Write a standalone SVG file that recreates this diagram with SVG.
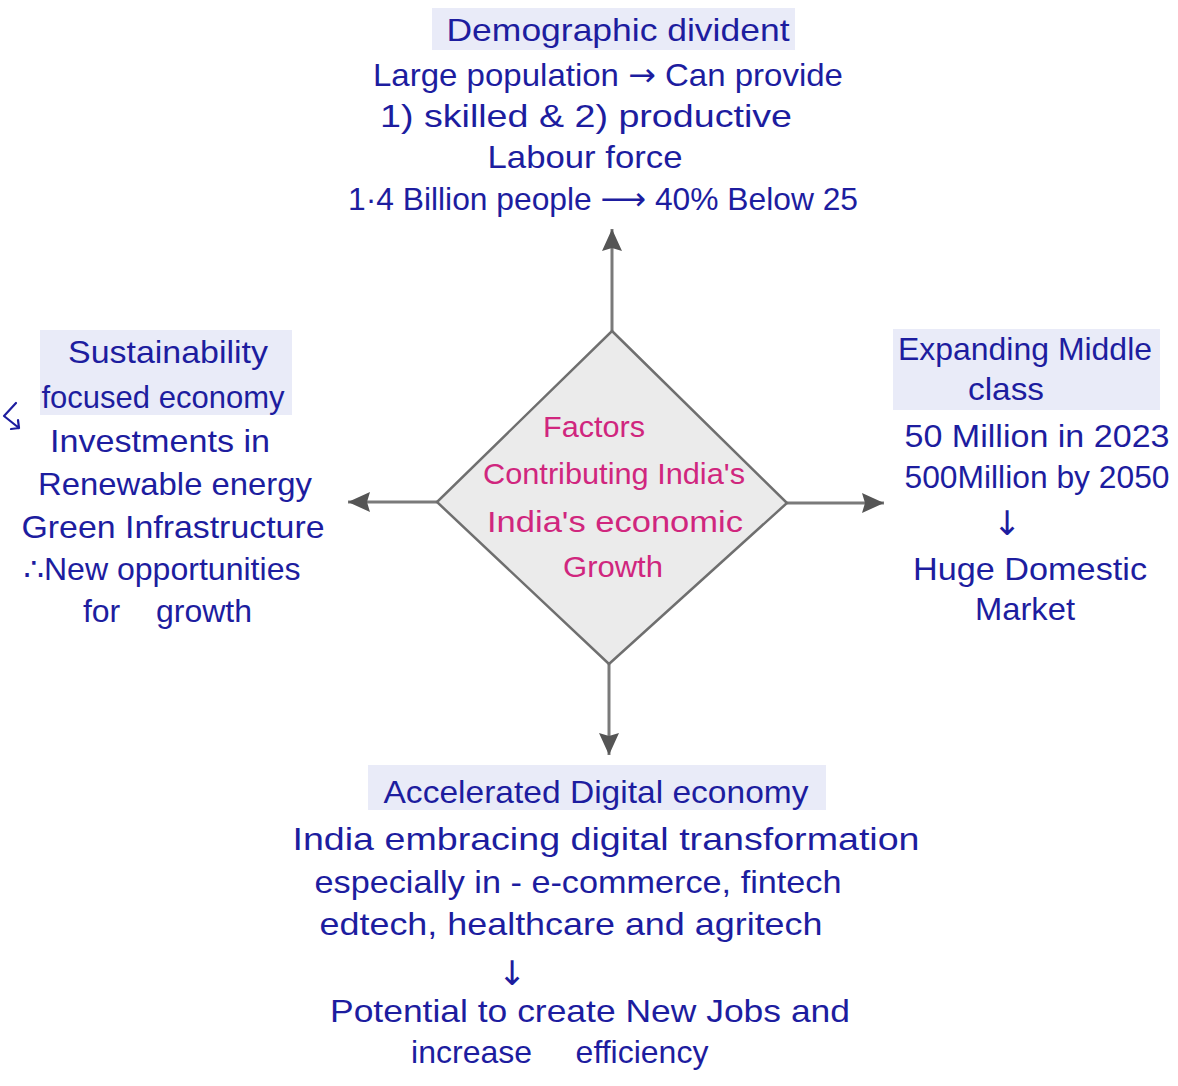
<svg xmlns="http://www.w3.org/2000/svg" width="1178" height="1086" viewBox="0 0 1178 1086">
  <style>
    .ink { font-family: "Liberation Sans", "DejaVu Sans", sans-serif; font-size: 32px; fill: #1d1d9f; text-anchor: middle; }
    .core { font-family: "Liberation Sans", "DejaVu Sans", sans-serif; font-size: 30px; fill: #d0267e; text-anchor: middle; }
    .arw { font-family: "DejaVu Sans", sans-serif; }
    .down { font-family: "DejaVu Sans", sans-serif; font-size: 34px; fill: #1d1d9f; text-anchor: middle; }
    .band { fill: #e9ebf8; }
    .link { stroke: #7a7a7a; stroke-width: 3; fill: none; }
    .pen { stroke: #1d1d9f; stroke-width: 2.2; fill: none; stroke-linecap: round; stroke-linejoin: round; }
  </style>
  <defs>
    <marker id="head" markerUnits="userSpaceOnUse" markerWidth="26" markerHeight="22" refX="22" refY="10" orient="auto">
      <path d="M0,0 L22,10 L0,20 L3,10 Z" fill="#555555"/>
    </marker>
  </defs>

  <rect width="1178" height="1086" fill="#ffffff"/>

  <!-- connectors from the central diamond -->
  <g id="connectors">
    <line class="link" x1="612" y1="331" x2="612" y2="229" marker-end="url(#head)"/>
    <line class="link" x1="437" y1="502" x2="348" y2="502" marker-end="url(#head)"/>
    <line class="link" x1="787" y1="503" x2="884" y2="503" marker-end="url(#head)"/>
    <line class="link" x1="609" y1="664" x2="609" y2="755" marker-end="url(#head)"/>
  </g>

  <!-- central topic -->
  <g id="node-center">
    <polygon points="612,331 787,503 609,664 437,502" fill="#ebebeb" stroke="#6f6f6f" stroke-width="2.5"/>
    <text class="core" x="594" y="437" textLength="102" lengthAdjust="spacingAndGlyphs">Factors</text>
    <text class="core" x="614" y="484" textLength="262" lengthAdjust="spacingAndGlyphs">Contributing India's</text>
    <text class="core" x="615" y="532" textLength="256" lengthAdjust="spacingAndGlyphs">India's economic</text>
    <text class="core" x="613" y="577" textLength="100" lengthAdjust="spacingAndGlyphs">Growth</text>
  </g>

  <!-- top: demographic dividend -->
  <g id="node-demographic">
    <rect class="band" x="432" y="8" width="363" height="42"/>
    <text class="ink" x="618" y="41" textLength="343" lengthAdjust="spacingAndGlyphs">Demographic divident</text>
    <text class="ink" x="608" y="86" textLength="470" lengthAdjust="spacingAndGlyphs">Large population <tspan class="arw">→</tspan> Can provide</text>
    <text class="ink" x="586" y="127" textLength="412" lengthAdjust="spacingAndGlyphs">1) skilled &amp; 2) productive</text>
    <text class="ink" x="585" y="168" textLength="195" lengthAdjust="spacingAndGlyphs">Labour force</text>
    <text class="ink" x="603" y="210" textLength="510" lengthAdjust="spacingAndGlyphs">1·4 Billion people <tspan class="arw">⟶</tspan> 40% Below 25</text>
  </g>

  <!-- left: sustainability -->
  <g id="node-sustainability">
    <rect class="band" x="40" y="330" width="252" height="85"/>
    <text class="ink" x="168" y="363" textLength="200" lengthAdjust="spacingAndGlyphs">Sustainability</text>
    <text class="ink" x="163" y="408" textLength="243" lengthAdjust="spacingAndGlyphs">focused economy</text>
    <path class="pen" d="M16,403 L4,416 L19,428 M11,429 L19,428 L18,420"/>
    <text class="ink" x="160" y="452" textLength="220" lengthAdjust="spacingAndGlyphs">Investments in</text>
    <text class="ink" x="175" y="495" textLength="274" lengthAdjust="spacingAndGlyphs">Renewable energy</text>
    <text class="ink" x="173" y="538" textLength="303" lengthAdjust="spacingAndGlyphs">Green Infrastructure</text>
    <text class="ink" x="162" y="580" textLength="277" lengthAdjust="spacingAndGlyphs">∴New opportunities</text>
    <text class="ink" x="106" y="622">for <tspan x="204">growth</tspan></text>
  </g>

  <!-- right: middle class -->
  <g id="node-middle-class">
    <rect class="band" x="893" y="329" width="267" height="81"/>
    <text class="ink" x="1025" y="360" textLength="254" lengthAdjust="spacingAndGlyphs">Expanding Middle</text>
    <text class="ink" x="1006" y="400" textLength="76" lengthAdjust="spacingAndGlyphs">class</text>
    <text class="ink" x="1037" y="447" textLength="265" lengthAdjust="spacingAndGlyphs">50 Million in 2023</text>
    <text class="ink" x="1037" y="488" textLength="265" lengthAdjust="spacingAndGlyphs">500Million by 2050</text>
    <text class="down" x="1007" y="535">↓</text>
    <text class="ink" x="1030" y="580" textLength="234" lengthAdjust="spacingAndGlyphs">Huge Domestic</text>
    <text class="ink" x="1025" y="620" textLength="100" lengthAdjust="spacingAndGlyphs">Market</text>
  </g>

  <!-- bottom: digital economy -->
  <g id="node-digital">
    <rect class="band" x="368" y="765" width="458" height="45"/>
    <text class="ink" x="596" y="803" textLength="425" lengthAdjust="spacingAndGlyphs">Accelerated Digital economy</text>
    <text class="ink" x="606" y="850" textLength="627" lengthAdjust="spacingAndGlyphs">India embracing digital transformation</text>
    <text class="ink" x="578" y="893" textLength="527" lengthAdjust="spacingAndGlyphs">especially in - e-commerce, fintech</text>
    <text class="ink" x="571" y="935" textLength="503" lengthAdjust="spacingAndGlyphs">edtech, healthcare and agritech</text>
    <text class="down" x="512" y="985">↓</text>
    <text class="ink" x="590" y="1022" textLength="520" lengthAdjust="spacingAndGlyphs">Potential to create New Jobs and</text>
    <text class="ink" x="476" y="1063">increase <tspan x="642">efficiency</tspan></text>
  </g>
</svg>
